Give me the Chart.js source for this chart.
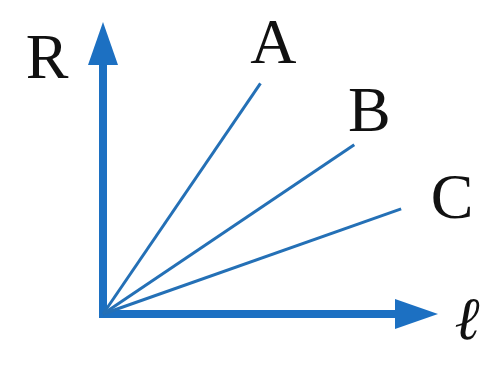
<!DOCTYPE html>
<html>
<head>
<meta charset="utf-8">
<script src="https://cdn.jsdelivr.net/npm/chart.js@4/dist/chart.umd.min.js"></script>
<style>
  html, body { margin: 0; padding: 0; background: #fff; }
  #wrap { width: 491px; height: 366px; }
</style>
</head>
<body>
<div id="wrap"><canvas id="rlChart" width="491" height="366"></canvas></div>
<script>
// series: R against length, each line from the origin
const seriesNames = ["A", "B", "C"];
const lengthEnd = [4.7, 7.5, 8.9];
const resistEnd = [7.9, 5.8, 3.6];
const axisMax = [10, 10]; // x (ℓ), y (R)
const axisNames = ["ℓ", "R"];

const axisBlue = "#1c70c2";
const lineBlue = "#2470b6";
const serif = "'Liberation Serif', 'Times New Roman', serif";

const datasets = seriesNames.map((name, i) => ({
  label: name,
  data: [{ x: 0, y: 0 }, { x: lengthEnd[i], y: resistEnd[i] }],
  borderColor: lineBlue,
  borderWidth: 3,
  borderCapStyle: "butt",
  pointRadius: 0,
  clip: false,
}));

// label offsets (px) from the end of each line
const labelOffset = { A: [13, -20], B: [15, -14], C: [51, 9] };

const axesPlugin = {
  id: "arrowAxes",
  beforeDatasetsDraw(chart) {
    const ctx = chart.ctx;
    const xs = chart.scales.x, ys = chart.scales.y;
    const ox = xs.getPixelForValue(0), oy = ys.getPixelForValue(0);
    const tipX = xs.getPixelForValue(axisMax[0]);
    const tipY = ys.getPixelForValue(axisMax[1]);
    const headLen = 43, headHalf = 15;
    ctx.save();
    ctx.strokeStyle = axisBlue;
    ctx.fillStyle = axisBlue;
    ctx.lineWidth = 8;
    ctx.lineCap = "butt";
    ctx.beginPath();
    ctx.moveTo(ox, tipY + headLen - 1);
    ctx.lineTo(ox, oy);
    ctx.lineTo(tipX - headLen + 1, oy);
    ctx.lineJoin = "miter";
    ctx.stroke();
    // y arrow head
    ctx.beginPath();
    ctx.moveTo(ox, tipY);
    ctx.lineTo(ox - headHalf, tipY + headLen);
    ctx.lineTo(ox + headHalf, tipY + headLen);
    ctx.closePath();
    ctx.fill();
    // x arrow head
    ctx.beginPath();
    ctx.moveTo(tipX, oy);
    ctx.lineTo(tipX - headLen, oy - headHalf);
    ctx.lineTo(tipX - headLen, oy + headHalf);
    ctx.closePath();
    ctx.fill();
    ctx.restore();
  },
  afterDatasetsDraw(chart) {
    const ctx = chart.ctx;
    const xs = chart.scales.x, ys = chart.scales.y;
    ctx.save();
    ctx.fillStyle = "#111";
    ctx.textAlign = "center";
    ctx.textBaseline = "alphabetic";
    ctx.font = "64px " + serif;
    seriesNames.forEach((name, i) => {
      const px = xs.getPixelForValue(lengthEnd[i]);
      const py = ys.getPixelForValue(resistEnd[i]);
      const off = labelOffset[name];
      ctx.fillText(name, px + off[0], py + off[1]);
    });
    // axis names
    ctx.fillText(axisNames[1], xs.getPixelForValue(0) - 56, ys.getPixelForValue(axisMax[1]) + 56);
    ctx.font = "italic 60px " + serif;
    ctx.fillText(axisNames[0], xs.getPixelForValue(axisMax[0]) + 29, ys.getPixelForValue(0) + 25);
    ctx.restore();
  },
};

new Chart(document.getElementById("rlChart"), {
  type: "line",
  data: { datasets: datasets },
  options: {
    responsive: false,
    animation: false,
    layout: { padding: { left: 103, right: 53, top: 22, bottom: 52 } },
    scales: {
      x: { type: "linear", min: 0, max: axisMax[0], display: false },
      y: { type: "linear", min: 0, max: axisMax[1], display: false },
    },
    plugins: {
      legend: { display: false },
      tooltip: { enabled: false },
    },
  },
  plugins: [axesPlugin],
});
</script>
</body>
</html>
